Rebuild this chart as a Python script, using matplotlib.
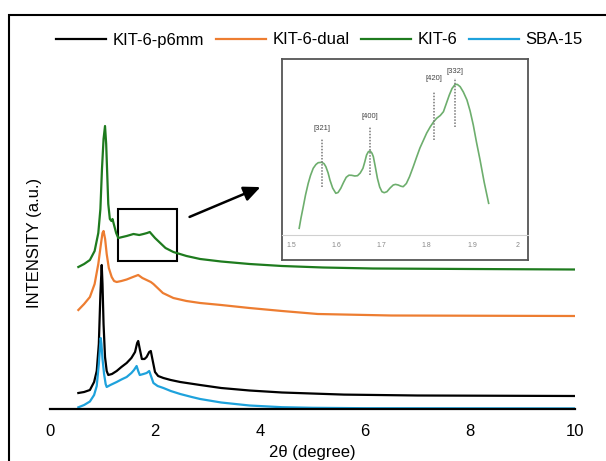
import numpy as np
import matplotlib
matplotlib.use("Agg")
import matplotlib.pyplot as plt
from matplotlib.patches import Rectangle

plt.rcParams['font.family'] = ['Liberation Sans', 'DejaVu Sans']

# ---------------- data (intensity in a.u.) ----------------
green_x = [0.54, 0.65, 0.76, 0.85, 0.92, 0.96, 0.99, 1.02, 1.048, 1.07, 1.09, 1.11, 1.14, 1.17,
           1.19, 1.22, 1.26, 1.30, 1.38, 1.46, 1.59, 1.70, 1.78, 1.85, 1.90, 1.95, 2.0, 2.10,
           2.2, 2.35, 2.6, 2.86, 3.26, 3.8, 4.42, 5.2, 6.15, 8, 10]
green_y = [142, 145, 149, 158, 176, 200, 240, 270, 283, 265, 235, 205, 190, 188,
           190, 184, 176, 171, 172, 173, 175, 174, 175, 176, 177, 174, 171, 166,
           161, 157, 153, 150, 147.5, 145, 143, 141.5, 140.5, 140, 139.5]

orange_x = [0.54, 0.65, 0.76, 0.85, 0.92, 0.97, 1.0, 1.02, 1.05, 1.08, 1.12, 1.175, 1.22, 1.27,
            1.36, 1.46, 1.58, 1.68, 1.76, 1.84, 1.92, 1.97, 2.05, 2.15, 2.35, 2.6, 2.86, 3.26,
            3.8, 4.42, 5.1, 6.5, 10]
orange_y = [99, 105, 112, 125, 145, 165, 176, 178, 170, 155, 141, 132, 128, 127,
            128, 129.5, 132, 134, 131, 129, 127, 125, 121, 116, 111, 108, 106, 104,
            101, 98, 95, 93.5, 93]

black_x = [0.54, 0.65, 0.76, 0.84, 0.89, 0.93, 0.96, 0.985, 1.0, 1.02, 1.048, 1.08, 1.11, 1.18,
           1.27, 1.36, 1.46, 1.55, 1.62, 1.66, 1.68, 1.71, 1.75, 1.80, 1.84, 1.89, 1.92, 1.95,
           2.0, 2.06, 2.16, 2.3, 2.48, 2.86, 3.26, 3.8, 4.42, 5.6, 7, 10]
black_y = [16, 17, 19, 27, 38, 65, 115, 144, 125, 85, 52, 38, 34, 35,
           38, 42, 46, 51, 57, 66, 68, 60, 50, 50, 52, 57, 58, 50,
           37, 33, 31, 29, 27, 24, 21, 18.5, 16.5, 14.4, 13.5, 13]

blue_x = [0.54, 0.65, 0.76, 0.84, 0.89, 0.93, 0.965, 0.98, 1.0, 1.03, 1.06, 1.08, 1.15, 1.27,
          1.36, 1.46, 1.55, 1.6, 1.65, 1.68, 1.71, 1.78, 1.84, 1.89, 1.93, 1.97, 2.05, 2.16,
          2.3, 2.48, 2.7, 2.86, 3.26, 3.8, 4.42, 5, 6, 10]
blue_y = [1.7, 4, 7.5, 14, 23, 45, 71, 65, 50, 35, 25, 22, 24, 27,
          29.5, 32, 36, 39, 43, 38, 34, 35, 36, 38, 32, 26, 23, 21,
          18, 15, 12, 10, 6.5, 3.5, 1.8, 1.2, 0.8, 0.6]

# zoomed KIT-6 region (inset)
zoom_x = [1.518, 1.522, 1.527, 1.532, 1.538, 1.543, 1.549, 1.555, 1.560, 1.568, 1.573, 1.577,
          1.582, 1.586, 1.592, 1.599, 1.604, 1.610, 1.616, 1.622, 1.628, 1.634, 1.641, 1.647,
          1.653, 1.659, 1.663, 1.667, 1.671, 1.675, 1.679, 1.682, 1.686, 1.691, 1.696, 1.701,
          1.706, 1.712, 1.719, 1.726, 1.731, 1.737, 1.743, 1.748, 1.755, 1.762, 1.770, 1.778,
          1.785, 1.793, 1.800, 1.808, 1.815, 1.822, 1.830, 1.837, 1.843, 1.850, 1.856, 1.863,
          1.868, 1.874, 1.881, 1.889, 1.896, 1.903, 1.910, 1.918, 1.927, 1.937]
zoom_y = [31.7, 42, 53.3, 65, 76.7, 84.5, 91.7, 95.5, 97.3, 97.7, 96.3, 93.3,
          87, 80, 72, 66.7, 67.5, 71.7, 77.5, 82.7, 84.8, 84.7, 84, 84.3,
          87, 91.7, 98, 105, 108.3, 109, 106.8, 103.3, 94, 81.7, 73, 68.3,
          67.3, 68.3, 72, 75, 75.6, 75, 73.8, 73.3, 76.5, 83.3, 93, 103.3,
          112, 120, 127, 133.3, 138, 141.7, 144.5, 148.3, 156, 165, 171.5, 175.7,
          175.5, 173.3, 168, 160, 149, 135, 118, 100, 78, 56.7]
peak_labels = ['[321]', '[400]', '[420]', '[332]']
peak_pos = [1.568, 1.675, 1.817, 1.863]
peak_lo = [73.3, 85, 120, 133.3]
peak_hi = [121.3, 133.3, 168.3, 181.7]
label_y = [131.7, 143.3, 181.7, 188.3]

series = [('KIT-6-p6mm', black_x, black_y, 'black'),
          ('KIT-6-dual', orange_x, orange_y, '#ED7D31'),
          ('KIT-6', green_x, green_y, '#1E7B1E'),
          ('SBA-15', blue_x, blue_y, '#1EA2DC')]

W, H = 606, 461
fig = plt.figure(figsize=(W / 100, H / 100), dpi=100)

# main axes
ax = fig.add_axes([50 / W, (H - 409) / H, 525 / W, 349 / H])
for name, xs, ys, c in series:
    ax.plot(xs, ys, color=c, lw=1.6, label=name, solid_joinstyle='round')
ax.set_xlim(0, 10)
ax.set_ylim(0, 349)
for s in ['top', 'right', 'left']:
    ax.spines[s].set_visible(False)
ax.spines['bottom'].set_linewidth(1.6)
ax.set_yticks([])
ax.set_xticks([0, 2, 4, 6, 8, 10])
ax.tick_params(axis='x', length=0, pad=11, labelsize=12)

# box around the zoomed region
ax.add_patch(Rectangle((1.30, 148), 1.11, 52, fill=False, lw=1.5, ec='black'))

fig.text(35 / W, 1 - 243 / H, 'INTENSITY (a.u.)', rotation=90, ha='center', va='center', fontsize=12)
fig.text(312 / W, 1 - 452 / H, '2θ (degree)', ha='center', va='center', fontsize=12)

fig.legend(loc='center', bbox_to_anchor=(0.527, 1 - 40 / H), ncol=4, frameon=False,
           fontsize=12, handlelength=3.0, handletextpad=0.4, columnspacing=0.7)

# arrow
ax.annotate('', xy=(263 / W, 1 - 186 / H), xycoords='figure fraction',
            xytext=(187 / W, 1 - 218 / H), textcoords='figure fraction',
            arrowprops=dict(arrowstyle='-|>,head_length=1.0,head_width=0.45', lw=1.8, color='black'))

# inset
ins = fig.add_axes([282 / W, (H - 260) / H, 246 / W, 201 / H])
ins.plot(zoom_x, zoom_y, color='#6DAE6D', lw=1.2)
for lab, px, lo, hi, ly in zip(peak_labels, peak_pos, peak_lo, peak_hi, label_y):
    ins.plot([px, px], [lo, hi], color='#777777', lw=1.1, ls=(0, (1, 1)))
    ins.text(px, ly, lab, ha='center', va='center', fontsize=5.5, color='#444444')
ins.set_xlim(1.480, 2.024)
ins.set_ylim(0, 201)
ins.set_yticks([])
ins.set_xticks([1.5, 1.6, 1.7, 1.8, 1.9, 2])
ins.set_xticklabels(['1.5', '1.6', '1.7', '1.8', '1.9', '2'])
ins.tick_params(axis='x', length=0, pad=5, labelsize=5, labelcolor='#888888')
ins.spines['bottom'].set_position(('data', 25))
ins.spines['bottom'].set_color('#d0d0d0')
ins.spines['bottom'].set_linewidth(0.8)
for s in ['top', 'right', 'left']:
    ins.spines[s].set_color('#555555')
    ins.spines[s].set_linewidth(1.3)
ins.plot([0, 1], [0, 0], transform=ins.transAxes, color='#555555', lw=1.3, clip_on=False)

# outer frame (cropped figure border)
fig.patches.append(Rectangle((9 / W, -0.1), 1.0, 1 - 15 / H + 0.1, transform=fig.transFigure,
                             fill=False, lw=1.5, ec='black'))

fig.savefig('out.png', dpi=100)
